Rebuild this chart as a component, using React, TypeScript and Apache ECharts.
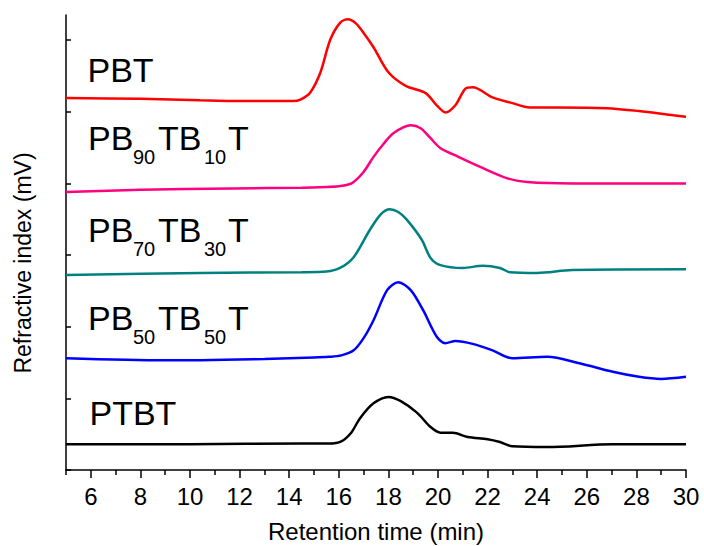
import React, { useEffect, useRef } from "react";
import * as echarts from "echarts";

// ---- data (retention time in min, refractive index in offset units) ----
const pbt: [number, number][] = [
  [5, 5.19], [8, 5.18], [10.4, 5.16], [12, 5.15], [13.5, 5.15], [14.15, 5.15], [14.45, 5.17],
  [14.85, 5.27], [15.25, 5.54], [15.65, 6.0], [16.05, 6.24], [16.37, 6.29],
  [16.7, 6.23], [17.0, 6.1], [17.4, 5.9], [18.0, 5.55], [18.7, 5.36],
  [19.5, 5.26], [19.95, 5.09], [20.3, 4.99], [20.7, 5.09], [21.1, 5.32],
  [21.4, 5.34], [22.2, 5.2], [23.0, 5.12], [23.7, 5.06], [24.8, 5.06],
  [26.8, 5.05], [28.1, 5.01], [29.5, 4.95], [30, 4.93],
];
const pb90: [number, number][] = [
  [5, 3.88], [8, 3.91], [11.7, 3.93], [14.5, 3.94], [15.5, 3.95], [16.0, 3.96], [16.35, 3.98], [16.6, 4.02],
  [17.0, 4.16], [17.4, 4.37], [17.8, 4.55], [18.2, 4.7], [18.9, 4.81],
  [19.3, 4.77], [19.7, 4.63], [20.1, 4.49], [20.7, 4.39], [21.7, 4.23],
  [22.8, 4.07], [23.6, 4.02], [25.4, 4.0], [30, 4.0],
];
const pb70: [number, number][] = [
  [5, 2.72], [10.4, 2.75], [14.5, 2.76], [15.5, 2.77], [16.05, 2.82], [16.6, 2.97],
  [17.25, 3.35], [17.7, 3.57], [18.05, 3.64], [18.4, 3.6], [18.75, 3.49],
  [19.35, 3.21], [19.7, 2.96], [20.1, 2.86], [21.0, 2.82], [21.8, 2.85],
  [22.5, 2.82], [22.9, 2.76], [24.0, 2.75], [25.4, 2.79], [30, 2.8],
];
const pb50: [number, number][] = [
  [5, 1.56], [9, 1.53], [13, 1.55], [15.0, 1.57], [15.6, 1.58], [16.1, 1.6], [16.6, 1.67],
  [17.0, 1.84], [17.4, 2.09], [17.95, 2.51], [18.4, 2.62], [18.9, 2.51],
  [19.4, 2.23], [19.95, 1.86], [20.3, 1.77], [20.7, 1.8], [21.4, 1.76],
  [22.2, 1.67], [23.0, 1.56], [24.4, 1.58], [25.7, 1.49], [27.05, 1.37],
  [28.1, 1.3], [29.0, 1.27], [30, 1.3],
];
const ptbt: [number, number][] = [
  [5, 0.36], [10, 0.36], [14.5, 0.37], [15.6, 0.37], [16.1, 0.4], [16.5, 0.52], [16.85, 0.72],
  [17.4, 0.93], [18.0, 1.02], [18.5, 0.96], [19.15, 0.8], [19.7, 0.6],
  [20.1, 0.52], [20.6, 0.52], [21.2, 0.46], [22.0, 0.43], [22.5, 0.39],
  [23.0, 0.33], [24.4, 0.32], [27.05, 0.36], [30, 0.36],
];
const seriesNames = ["PBT", "PB90TB10T", "PB70TB30T", "PB50TB50T", "PTBT"];
const seriesColors = ["#ff0000", "#ff0080", "#008080", "#0000ff", "#000000"];
const xMajorTicks = [6, 8, 10, 12, 14, 16, 18, 20, 22, 24, 26, 28, 30];
const xMinorTicks = [5, 7, 9, 11, 13, 15, 17, 19, 21, 23, 25, 27, 29];
const yTicks = [0, 1, 2, 3, 4, 5, 6];
// label text pieces: [text, isSubscript]
const labelPieces: [string, boolean][][] = [
  [["PBT", false]],
  [["PB", false], ["90", true], ["TB", false], ["10", true], ["T", false]],
  [["PB", false], ["70", true], ["TB", false], ["30", true], ["T", false]],
  [["PB", false], ["50", true], ["TB", false], ["50", true], ["T", false]],
  [["PTBT", false]],
];

// ---- layout ----
const FONT = "'Liberation Sans', Arial, sans-serif";
const MAIN_FS = 34;
const SUB_FS = 20;
const pieceOffsets = [0, 45, 70, 116, 140];
const labelPos = [
  { x: 87.5, base: 82 },
  { x: 88, base: 150 },
  { x: 88, base: 242 },
  { x: 88, base: 330 },
  { x: 89.5, base: 425 },
];

function buildLabels() {
  const els: any[] = [];
  labelPieces.forEach((pieces, i) => {
    const pos = labelPos[i];
    pieces.forEach(([text, sub], j) => {
      const fs = sub ? SUB_FS : MAIN_FS;
      const base = sub ? pos.base + 14 : pos.base;
      els.push({
        type: "text",
        x: pos.x + pieceOffsets[j],
        y: base - 0.3465 * fs,
        style: {
          text,
          fill: "#000",
          fontSize: fs,
          fontFamily: FONT,
          align: "left",
          verticalAlign: "middle",
        },
      });
    });
  });
  els.push({
    type: "text",
    x: 23,
    y: 263,
    rotation: Math.PI / 2,
    style: {
      text: "Refractive index (mV)",
      fill: "#000",
      fontSize: 23,
      fontFamily: FONT,
      align: "center",
      verticalAlign: "middle",
    },
  });
  return els;
}

export default function App() {
  const ref = useRef<HTMLDivElement>(null);
  useEffect(() => {
    if (!ref.current) return;
    const chart = echarts.init(ref.current, null, { renderer: "svg" });
    const datasets = [pbt, pb90, pb70, pb50, ptbt];
    chart.setOption({
      animation: false,
      backgroundColor: "#fff",
      grid: { left: 66, right: 18, top: 15, bottom: 76, containLabel: false, outerBoundsMode: "none" },
      xAxis: [
        {
          type: "value",
          min: 5,
          max: 30,
          interval: 1,
          position: "bottom",
          name: "Retention time (min)",
          nameLocation: "middle",
          nameGap: 49,
          nameTextStyle: { fontSize: 24, color: "#000", fontFamily: FONT },
          axisLine: { show: true, lineStyle: { color: "#000", width: 1.5 } },
          axisTick: { show: true, customValues: xMajorTicks, length: 8, lineStyle: { color: "#000", width: 1.5 } },
          axisLabel: { customValues: xMajorTicks, fontSize: 24, color: "#000", margin: 14, fontFamily: FONT },
          splitLine: { show: false },
        },
        {
          type: "value",
          min: 5,
          max: 30,
          interval: 1,
          position: "bottom",
          axisLine: { show: false },
          axisTick: { show: true, customValues: xMinorTicks, length: 5, lineStyle: { color: "#000", width: 1.5 } },
          axisLabel: { show: false },
          splitLine: { show: false },
        },
      ],
      yAxis: {
        type: "value",
        min: 0,
        max: 6.35,
        interval: 1,
        axisLine: { show: true, lineStyle: { color: "#000", width: 1.5 } },
        axisTick: { show: true, inside: true, customValues: yTicks, length: 5, lineStyle: { color: "#000", width: 1.5 } },
        axisLabel: { show: false },
        splitLine: { show: false },
      },
      series: datasets.map((d, i) => ({
        name: seriesNames[i],
        type: "line",
        xAxisIndex: 0,
        data: d,
        showSymbol: false,
        smooth: 0.3,
        lineStyle: { color: seriesColors[i], width: 2.5 },
        itemStyle: { color: seriesColors[i] },
      })),
      graphic: buildLabels(),
    });
    return () => chart.dispose();
  }, []);
  return (
    <div
      ref={ref}
      style={{ position: "fixed", left: 0, top: 0, width: 704, height: 546 }}
    />
  );
}
